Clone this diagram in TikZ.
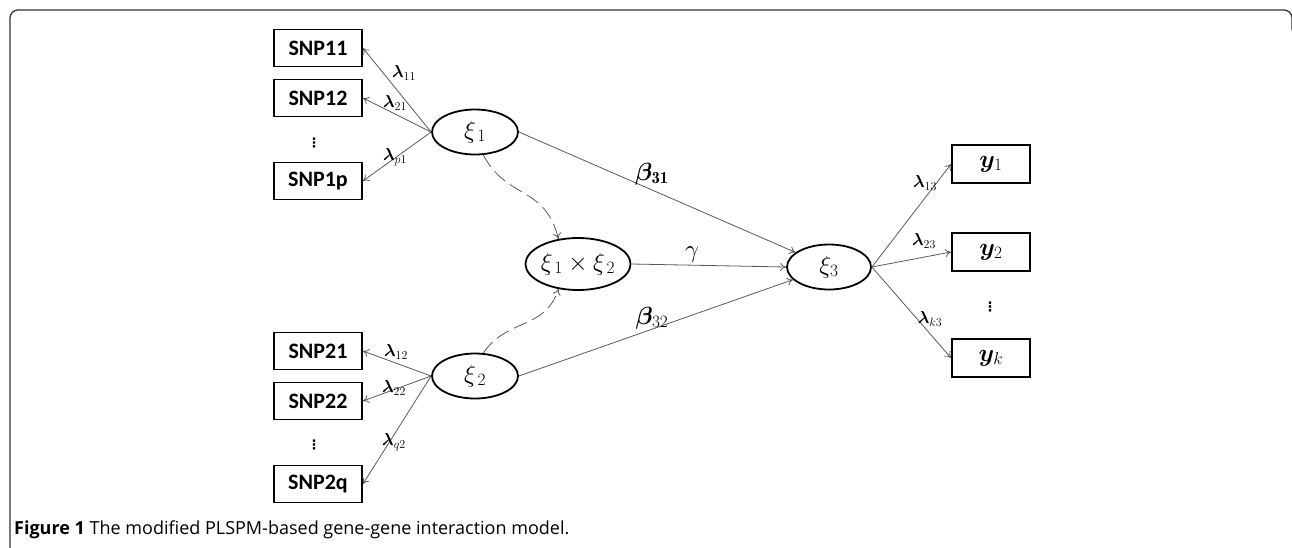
\documentclass[tikz,border=0pt]{standalone}
\usepackage{amsmath,bm}
\usepackage{fontspec}
\newfontfamily\snpfont{Carlito}
\newfontfamily\capfont{Open Sans}
\newfontfamily\dotfont{DejaVu Sans}
\usetikzlibrary{shapes.geometric,arrows.meta}
\tikzset{
 snpbox/.style={draw, line width=1.8pt, minimum width=88pt, minimum height=37pt, inner sep=0pt, font=\snpfont\bfseries\fontsize{22}{22}\selectfont},
 ybox/.style={draw, line width=1.8pt, minimum width=78pt, minimum height=38pt, inner sep=0pt, font=\fontsize{25}{25}\selectfont},
 lv/.style={ellipse, draw, line width=1.8pt, minimum width=86pt, minimum height=45pt, inner sep=0pt, font=\fontsize{24}{24}\selectfont},
 arr/.style={draw=black!65, line width=0.8pt, -{To[length=6pt,width=8pt]}},
 darr/.style={arr, dash pattern=on 14pt off 6pt},
 lab/.style={font=\fontsize{18}{18}\selectfont, inner sep=0pt},
 blab/.style={font=\fontsize{24}{24}\selectfont, inner sep=0pt},
 vdot/.style={font=\dotfont\bfseries\fontsize{13}{13}\selectfont, inner sep=0pt},
 frame/.style={draw=black!80, line width=1.3pt, rounded corners=8pt},
}
\begin{document}
\begin{tikzpicture}[x=1pt,y=-1pt]
\useasboundingbox (0,0) rectangle (1292,547);
\draw[frame] (10,560) -- (10,10) -- (1292,10) -- (1292,30);
% SNP boxes
\node[snpbox] (s11) at (318,48) {SNP11};
\node[snpbox] (s12) at (318,98) {SNP12};
\node[vdot] (d1) at (314,143) {⋮};
\node[snpbox] (s1p) at (318,181) {SNP1p};
\node[snpbox] (s21) at (318,351) {SNP21};
\node[snpbox] (s22) at (318,401) {SNP22};
\node[vdot] (d2) at (314,445) {⋮};
\node[snpbox] (s2q) at (318,484) {SNP2q};
% latent variables
\node[lv] (x1) at (475,132) {$\xi_{\,1}$};
\node[lv] (x2) at (475,376) {$\xi_{\,2}$};
\node[lv, minimum width=104pt, minimum height=52pt] (x12) at (578,264) {$\xi_{\,1}\times\xi_{\,2}$};
\node[lv, minimum width=84pt] (x3) at (829,267) {$\xi_{3}$};
% y boxes
\node[ybox] (y1) at (991,164) {$\bm{y}_{1}$};
\node[ybox] (y2) at (991,252) {$\bm{y}_{2}$};
\node[vdot] (d3) at (990,307) {⋮};
\node[ybox] (yk) at (991,358) {$\bm{y}_{k}$};
% loadings
\draw[arr] (x1.west) -- (s11.east);
\draw[arr] (x1.west) -- (s12.east);
\draw[arr] (x1.west) -- (s1p.east);
\draw[arr] (x2.west) -- (s21.east);
\draw[arr] (x2.west) -- (s22.east);
\draw[arr] (x2.west) -- (s2q.east);
\draw[arr] (x3.east) -- (y1.west);
\draw[arr] (x3.east) -- (y2.west);
\draw[arr] (x3.east) -- (yk.west);
% paths
\draw[arr] (x1.east) -- (x3);
\draw[arr] (x12.east) -- (x3.west);
\draw[arr] (x2.east) -- (x3);
\draw[darr] (x1.290) .. controls (507,200) and (545,185) .. (x12.128);
\draw[darr] (x2.70) .. controls (507,318) and (545,330) .. (x12.232);
% labels
\node[lab] (l11) at (404,73) {$\bm{\lambda}_{11}$};
\node[lab] (l21) at (395,103) {$\bm{\lambda}_{21}$};
\node[lab] (lp1) at (395,157) {$\bm{\lambda}_{p1}$};
\node[lab] (l12) at (396,352) {$\bm{\lambda}_{12}$};
\node[lab] (l22) at (394,388) {$\bm{\lambda}_{22}$};
\node[lab] (lq2) at (394,442) {$\bm{\lambda}_{q2}$};
\node[lab] (l13) at (925,183) {$\bm{\lambda}_{13}$};
\node[lab] (l23) at (924,241) {$\bm{\lambda}_{23}$};
\node[lab] (lk3) at (930,319) {$\bm{\lambda}_{k3}$};
\node[blab] (b31) at (652,174) {$\bm{\beta}_{\mathbf{31}}$};
\node[blab] (g) at (692,255) {$\gamma$};
\node[blab] (b32) at (652,318) {$\bm{\beta}_{32}$};
% caption
\node[anchor=base west, inner sep=0pt, font=\capfont\fontsize{18}{18}\selectfont] (cap) at (14,534) {\textbf{Figure 1} The modified PLSPM-based gene-gene interaction model.};
\end{tikzpicture}
\end{document}
